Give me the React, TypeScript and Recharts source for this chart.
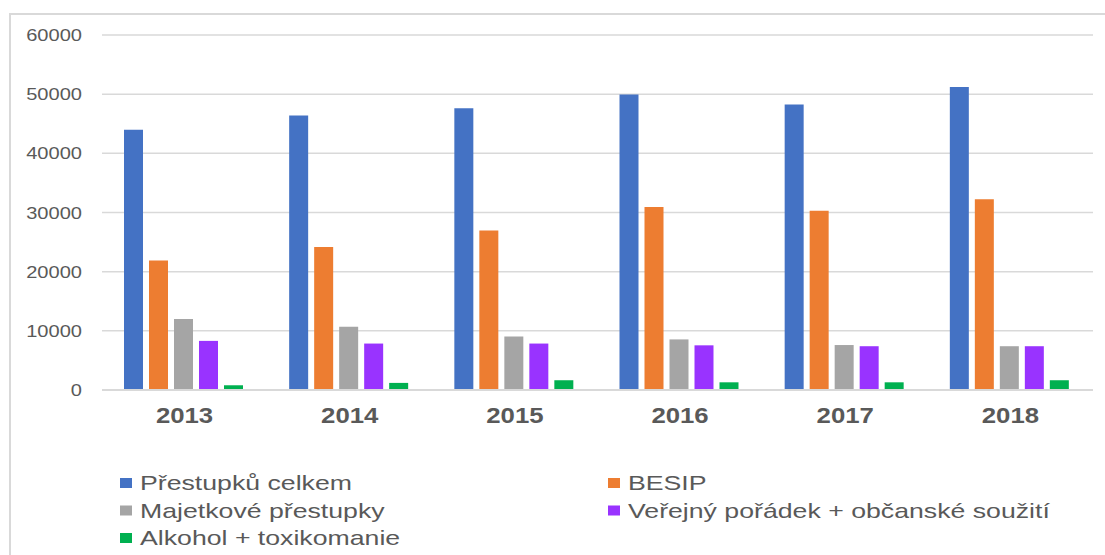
import React from "react";
import { BarChart, Bar, XAxis, YAxis, CartesianGrid, Legend } from "recharts";

const YEARS = ["2013", "2014", "2015", "2016", "2017", "2018"];
const CELKEM = [44000, 46400, 47600, 49950, 48250, 51200];
const BESIP = [21900, 24150, 26950, 30950, 30300, 32250];
const MAJETKOVE = [12000, 10700, 9050, 8550, 7600, 7400];
const VEREJNY = [8300, 7850, 7850, 7550, 7400, 7400];
const ALKOHOL = [800, 1200, 1650, 1300, 1300, 1650];
const Y_TICKS = [0, 10000, 20000, 30000, 40000, 50000, 60000];

const SERIES = [
  { key: "celkem", name: "Přestupků celkem", color: "#4472C4" },
  { key: "besip", name: "BESIP", color: "#ED7D31" },
  { key: "majetkove", name: "Majetkové přestupky", color: "#A5A5A5" },
  { key: "verejny", name: "Veřejný pořádek + občanské soužití", color: "#9933FF" },
  { key: "alkohol", name: "Alkohol + toxikomanie", color: "#00B050" },
];

const data = YEARS.map((year, i) => ({
  year,
  celkem: CELKEM[i],
  besip: BESIP[i],
  majetkove: MAJETKOVE[i],
  verejny: VEREJNY[i],
  alkohol: ALKOHOL[i],
}));

const FONT = "'Liberation Sans', Arial, sans-serif";
const TEXT = "#595959";
const GRID = "#d9d9d9";

// the picture's text is wider than plain Arial, so stretch it
let ctx: CanvasRenderingContext2D | null = null;
const measure = (txt: string, font: string) => {
  if (!ctx) ctx = document.createElement("canvas").getContext("2d");
  if (!ctx) return txt.length * 10;
  ctx.font = font;
  return ctx.measureText(txt).width;
};

const XTick = ({ x, y, payload }: any) => {
  const w = measure(payload.value, `bold 22px ${FONT}`) * 1.17;
  return (
    <text
      x={x}
      y={y + 33}
      textAnchor="middle"
      fontFamily={FONT}
      fontSize={22}
      fontWeight="bold"
      fill={TEXT}
      textLength={w}
      lengthAdjust="spacingAndGlyphs"
    >
      {payload.value}
    </text>
  );
};

const YTick = ({ x, y, payload }: any) => {
  const w = measure(String(payload.value), `17px ${FONT}`) * 1.18;
  return (
    <text
      x={x - 20}
      y={y + 6}
      textAnchor="end"
      fontFamily={FONT}
      fontSize={17}
      fill={TEXT}
      textLength={w}
      lengthAdjust="spacingAndGlyphs"
    >
      {payload.value}
    </text>
  );
};

const LegendBox = ({ payload }: any) => {
  // keep the series order, the payload comes back sorted by name
  const items = SERIES.map((s) => {
    const hit = (payload || []).find((p: any) => p.value === s.name);
    return { value: s.name, color: hit ? hit.color : s.color };
  });
  return (
    <svg width={1105} height={90} style={{ display: "block" }}>
      {items.map((entry, i) => {
        const col = i % 2;
        const row = Math.floor(i / 2);
        const x = col === 0 ? 120 : 608;
        const cy = 18 + row * 27.5;
        const label = entry.value;
        const w = measure(label, `21px ${FONT}`) * 1.27;
        return (
          <g key={label}>
            <rect x={x} y={cy - 5} width={12} height={10} fill={entry.color} />
            <text
              x={x + 20}
              y={cy + 7}
              fontFamily={FONT}
              fontSize={21}
              fill={TEXT}
              textLength={w}
              lengthAdjust="spacingAndGlyphs"
            >
              {label}
            </text>
          </g>
        );
      })}
    </svg>
  );
};

export default function App() {
  return (
    <div
      style={{
        position: "absolute",
        left: 0,
        top: 0,
        width: 1105,
        height: 555,
        background: "#fff",
        overflow: "hidden",
      }}
    >
      <div style={{ position: "absolute", left: 10, top: 13, width: 1095, height: 2, background: GRID }} />
      <div style={{ position: "absolute", left: 9, top: 13, width: 2, height: 542, background: GRID }} />
      <BarChart
        width={1105}
        height={555}
        data={data}
        margin={{ top: 35, right: 12, left: 0, bottom: 0 }}
        barCategoryGap={22}
        barGap={6}
      >
        <CartesianGrid vertical={false} stroke={GRID} strokeWidth={1.5} />
        <XAxis
          dataKey="year"
          height={75}
          tickLine={false}
          tickSize={0}
          tickMargin={0}
          axisLine={{ stroke: GRID, strokeWidth: 2 }}
          tick={<XTick />}
        />
        <YAxis
          width={102}
          domain={[0, 60000]}
          ticks={Y_TICKS}
          axisLine={false}
          tickLine={false}
          tickSize={0}
          tickMargin={0}
          tick={<YTick />}
        />
        <Legend
          verticalAlign="bottom"
          content={<LegendBox />}
          wrapperStyle={{ left: 0, width: 1105, height: 90 }}
        />
        {SERIES.map((s) => (
          <Bar
            key={s.key}
            dataKey={s.key}
            name={s.name}
            fill={s.color}
            isAnimationActive={false}
          />
        ))}
      </BarChart>
    </div>
  );
}
